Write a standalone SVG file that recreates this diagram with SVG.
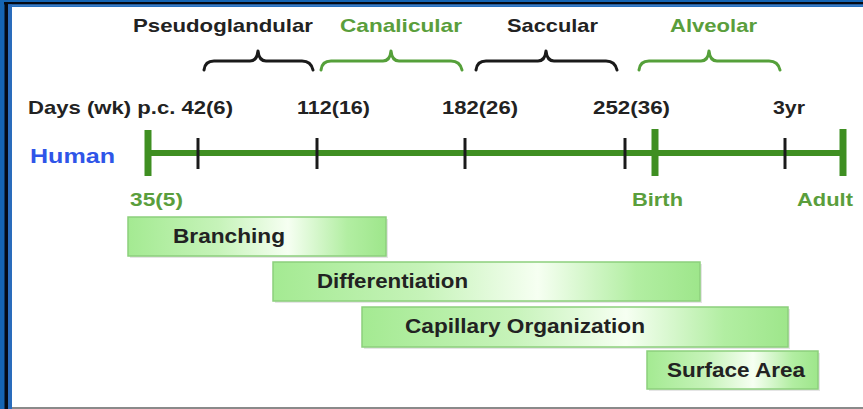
<svg xmlns="http://www.w3.org/2000/svg" width="863" height="409" viewBox="0 0 863 409">
<style>
text{font-family:"Liberation Sans",Arial,sans-serif;font-weight:bold;font-size:19px}
.blk{fill:#222}
.grn{fill:#5a9e3c}
.hum{fill:#2f55e8;font-size:20px}
.brace{fill:none;stroke-width:3;stroke-linecap:round;stroke-linejoin:round}
.bb{stroke:#1a1a1a}
.bg{stroke:#55a03a}
.axis{stroke:#3f8f22;stroke-width:6}
.big{stroke:#3f8f22;stroke-width:7}
.small{stroke:#1a1a1a;stroke-width:3}
.bar{fill:url(#barGrad);stroke:#8ccf7c;stroke-width:1.5}
.shadow{fill:#000;opacity:0.10}
.bartxt{fill:#222;font-size:20px}
</style>
<defs>
<linearGradient id="barGrad" x1="0" y1="0" x2="1" y2="0">
<stop offset="0" stop-color="#a4ea92"/>
<stop offset="0.35" stop-color="#c6f3b9"/>
<stop offset="0.62" stop-color="#f6fff2"/>
<stop offset="0.85" stop-color="#b2eea2"/>
<stop offset="1" stop-color="#9ee68b"/>
</linearGradient>
</defs>
<rect x="0" y="0" width="863" height="409" fill="#ffffff"/>
<g id="frame">
<rect x="0" y="0" width="863" height="7" fill="#1565b4"/>
<rect x="0" y="0" width="12" height="409" fill="#1565b4"/>
<rect x="4" y="2" width="859" height="2.5" fill="#050a14"/>
<rect x="4.5" y="2" width="3.5" height="407" fill="#050a14"/>
<rect x="8" y="4.5" width="855" height="2" fill="#3a7cc8"/>
<rect x="8" y="4.5" width="4" height="405" fill="#2a6cbc"/>
<rect x="12" y="407" width="851" height="2" fill="#8a8a8a"/>
</g>
<g id="stages">
<g id="pseudoglandular">
<text class="blk" x="133" y="32" textLength="180" lengthAdjust="spacingAndGlyphs">Pseudoglandular</text>
<path class="brace bb" d="M204,70 Q205,61 214,61 L250,61 Q257,61 258,51 Q259,61 266,61 L302,61 Q311,61 313,70"/>
</g>
<g id="canalicular">
<text class="grn" x="340" y="32" textLength="122" lengthAdjust="spacingAndGlyphs">Canalicular</text>
<path class="brace bg" d="M321,70 Q322,61 331,61 L383,61 Q390,61 391,51 Q392,61 399,61 L451,61 Q460,61 462,70"/>
</g>
<g id="saccular">
<text class="blk" x="507" y="32" textLength="91" lengthAdjust="spacingAndGlyphs">Saccular</text>
<path class="brace bb" d="M476,70 Q477,61 486,61 L538,61 Q545,61 546,51 Q547,61 554,61 L606,61 Q615,61 617,70"/>
</g>
<g id="alveolar">
<text class="grn" x="670" y="32" textLength="87" lengthAdjust="spacingAndGlyphs">Alveolar</text>
<path class="brace bg" d="M639,70 Q640,61 649,61 L701,61 Q708,61 709,51 Q710,61 717,61 L769,61 Q778,61 780,70"/>
</g>
</g>
<g id="day-labels">
<text class="blk" x="28" y="114" textLength="205" lengthAdjust="spacingAndGlyphs">Days (wk) p.c. 42(6)</text>
<text class="blk" x="297" y="114" textLength="73" lengthAdjust="spacingAndGlyphs">112(16)</text>
<text class="blk" x="442" y="114" textLength="76" lengthAdjust="spacingAndGlyphs">182(26)</text>
<text class="blk" x="593" y="114" textLength="77" lengthAdjust="spacingAndGlyphs">252(36)</text>
<text class="blk" x="773" y="114" textLength="32" lengthAdjust="spacingAndGlyphs">3yr</text>
</g>
<g id="timeline">
<text class="hum" x="30" y="163" textLength="85" lengthAdjust="spacingAndGlyphs">Human</text>
<line class="axis" x1="148" y1="153" x2="843" y2="153"/>
<line class="big" x1="148" y1="130" x2="148" y2="176"/>
<line class="big" x1="655" y1="129" x2="655" y2="176"/>
<line class="big" x1="843" y1="129" x2="843" y2="176"/>
<line class="small" x1="198" y1="138" x2="198" y2="169"/>
<line class="small" x1="317" y1="138" x2="317" y2="169"/>
<line class="small" x1="465" y1="138" x2="465" y2="169"/>
<line class="small" x1="625" y1="138" x2="625" y2="169"/>
<line class="small" x1="785" y1="138" x2="785" y2="169"/>
<text class="grn" x="130" y="206" textLength="53" lengthAdjust="spacingAndGlyphs">35(5)</text>
<text class="grn" x="632" y="206" textLength="51" lengthAdjust="spacingAndGlyphs">Birth</text>
<text class="grn" x="797" y="206" textLength="56" lengthAdjust="spacingAndGlyphs">Adult</text>
</g>
<g id="branching">
<rect class="shadow" x="130" y="219" width="258" height="39"/>
<rect class="bar" x="128" y="217" width="258" height="39"/>
<text class="bartxt" x="173" y="243" textLength="112" lengthAdjust="spacingAndGlyphs">Branching</text>
</g>
<g id="differentiation">
<rect class="shadow" x="275" y="264" width="427" height="39"/>
<rect class="bar" x="273" y="262" width="427" height="39"/>
<text class="bartxt" x="317" y="288" textLength="151" lengthAdjust="spacingAndGlyphs">Differentiation</text>
</g>
<g id="capillary-organization">
<rect class="shadow" x="364" y="309" width="426" height="40"/>
<rect class="bar" x="362" y="307" width="426" height="40"/>
<text class="bartxt" x="405" y="333" textLength="240" lengthAdjust="spacingAndGlyphs">Capillary Organization</text>
</g>
<g id="surface-area">
<rect class="shadow" x="649" y="353" width="171" height="38"/>
<rect class="bar" x="647" y="351" width="171" height="38"/>
<text class="bartxt" x="667" y="377" textLength="138" lengthAdjust="spacingAndGlyphs">Surface Area</text>
</g>
</svg>
